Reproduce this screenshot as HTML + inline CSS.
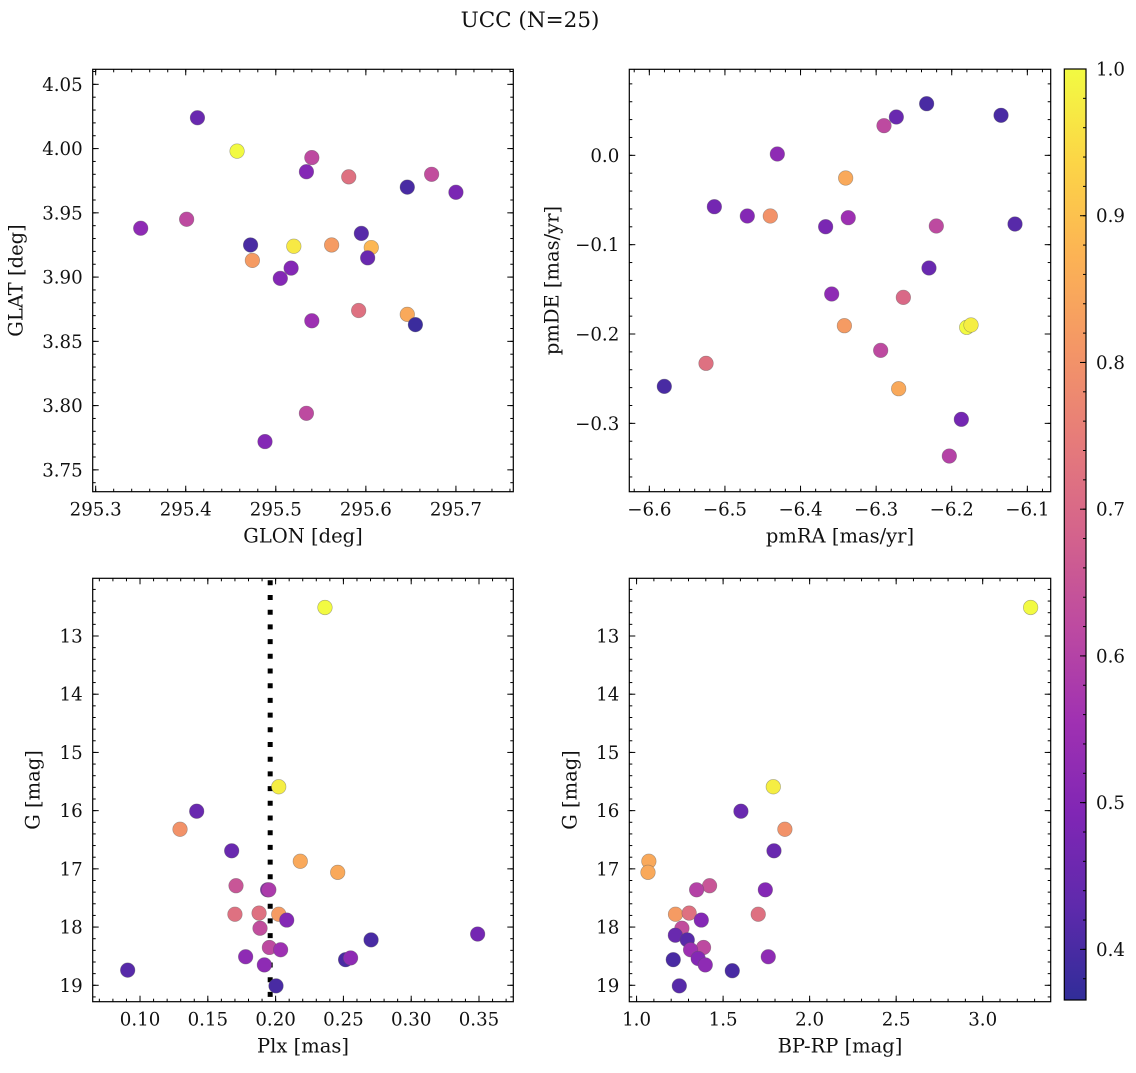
<!DOCTYPE html>
<html><head><meta charset="utf-8"><style>
html,body{margin:0;padding:0;background:#fff;}
svg text{font-family:"DejaVu Serif","Liberation Serif",serif;fill:#111;}
</style></head>
<body>
<svg id="fig" width="1136" height="1068" viewBox="0 0 1136 1068" xmlns="http://www.w3.org/2000/svg">
<text x="530" y="27" font-size="21.5" text-anchor="middle">UCC (N=25)</text>
</svg>
<script>
// ---- data ----
const glon = [295.413,295.457,295.540,295.534,295.581,295.646,295.673,295.700,295.350,295.401,295.472,295.474,295.520,295.562,295.595,295.606,295.602,295.517,295.505,295.592,295.646,295.655,295.540,295.534,295.488];
const glat = [4.024,3.998,3.993,3.982,3.978,3.970,3.980,3.966,3.938,3.945,3.925,3.913,3.924,3.925,3.934,3.923,3.915,3.907,3.899,3.874,3.871,3.863,3.866,3.794,3.772];
const cGal = [0.45,1.0,0.62,0.5,0.72,0.4,0.63,0.48,0.52,0.62,0.4,0.82,0.97,0.82,0.42,0.88,0.45,0.5,0.5,0.72,0.85,0.38,0.55,0.62,0.5];

const pmra = [-6.2332,-6.2733,-6.2896,-6.1348,-6.4307,-6.3403,-6.514,-6.4704,-6.440,-6.3668,-6.3369,-6.2204,-6.1163,-6.2301,-6.3588,-6.264,-6.342,-6.1802,-6.1745,-6.294,-6.525,-6.5802,-6.2702,-6.1873,-6.2032];
const pmde = [0.0578,0.0429,0.0332,0.0448,0.0015,-0.0254,-0.0575,-0.0679,-0.0679,-0.0799,-0.0698,-0.0791,-0.0769,-0.1261,-0.1552,-0.159,-0.1907,-0.1925,-0.1899,-0.2183,-0.2328,-0.2586,-0.2612,-0.2955,-0.3366];
const cPm = [0.4,0.45,0.62,0.4,0.52,0.85,0.47,0.5,0.8,0.48,0.55,0.62,0.42,0.45,0.52,0.7,0.82,1.0,0.98,0.62,0.72,0.4,0.85,0.47,0.6];

const plx = [0.2364,0.2023,0.1418,0.1295,0.1676,0.2182,0.2458,0.1708,0.1941,0.1950,0.1700,0.1878,0.2023,0.2082,0.1885,0.2704,0.3490,0.1954,0.2037,0.1779,0.2516,0.2553,0.1917,0.0909,0.2003];
const gPlx = [12.51,15.59,16.01,16.32,16.69,16.87,17.06,17.29,17.36,17.36,17.78,17.76,17.78,17.88,18.02,18.22,18.12,18.35,18.39,18.51,18.56,18.53,18.65,18.74,19.01];
const cPlx = [1.0,0.98,0.45,0.8,0.45,0.85,0.85,0.65,0.5,0.58,0.72,0.72,0.82,0.5,0.63,0.4,0.47,0.62,0.55,0.52,0.4,0.52,0.52,0.42,0.4];
const plxLine = 0.196;

const bprp = [3.277,1.790,1.603,1.857,1.794,1.071,1.066,1.422,1.347,1.744,1.225,1.304,1.703,1.374,1.262,1.224,1.293,1.387,1.312,1.356,1.397,1.761,1.212,1.553,1.247];
const gCol = [12.51,15.59,16.01,16.32,16.69,16.87,17.06,17.29,17.36,17.36,17.78,17.76,17.78,17.88,18.02,18.14,18.22,18.35,18.39,18.54,18.65,18.51,18.56,18.75,19.01];
const cCol = [1.0,0.98,0.45,0.8,0.45,0.85,0.85,0.65,0.6,0.5,0.82,0.72,0.72,0.5,0.63,0.45,0.42,0.62,0.55,0.5,0.52,0.52,0.4,0.4,0.42];

const cbTicks = [0.4,0.5,0.6,0.7,0.8,0.9,1.0];
const cMin = 0.3655, cMax = 1.0;

// ---- helpers ----
const NS = "http://www.w3.org/2000/svg";
const svg = document.getElementById('fig');
const TF = 18.2, LF = 19.5;
function mk(tag, attrs, parent){const e=document.createElementNS(NS,tag);for(const k in attrs)e.setAttribute(k,attrs[k]);(parent||svg).appendChild(e);return e;}
const stops=["#0d0887","#41049d","#6a00a8","#8f0da4","#b12a90","#cc4778","#e16462","#f2844b","#fca636","#fcce25","#f0f921"];
function hex(h){return [parseInt(h.substr(1,2),16),parseInt(h.substr(3,2),16),parseInt(h.substr(5,2),16)];}
function plasma(t,alpha){t=Math.max(0,Math.min(1,t));const p=t*10,i=Math.min(9,Math.floor(p)),f=p-i;const a=hex(stops[i]),b=hex(stops[i+1]);
 const c=a.map((v,k)=>v+(b[k]-v)*f).map(v=>Math.round(v*alpha+255*(1-alpha)));return `rgb(${c[0]},${c[1]},${c[2]})`;}
function colorOf(v){return plasma((v-cMin)/(cMax-cMin),0.85);}
function fmt(v,d){const s=Math.abs(v).toFixed(d);return (v<-1e-9?'\u2212':'')+s;}

function panel(o){
 const g=mk('g',{});
 
 
 const L=o.x0,R=o.x1,T=o.y0,B=o.y1;
 const sx=v=>L+(v-o.xmin)/(o.xmax-o.xmin)*(R-L);
 const sy=o.yinv?(v=>T+(v-o.ymin)/(o.ymax-o.ymin)*(B-T)):(v=>B-(v-o.ymin)/(o.ymax-o.ymin)*(B-T));
 const tg=mk('g',{stroke:'#000','stroke-width':1},g);
 function ticksX(step,len,labels,dec){const s0=Math.ceil(o.xmin/step-1e-6);for(let k=s0;k*step<=o.xmax+1e-9;k++){const v=k*step,x=sx(v);
   mk('line',{x1:x,x2:x,y1:B,y2:B-len},tg);mk('line',{x1:x,x2:x,y1:T,y2:T+len},tg);
   if(labels){const t=mk('text',{x:x,y:B+24,'font-size':TF,'text-anchor':'middle',stroke:'none'},g);t.textContent=fmt(v,dec);
     }}}
 function ticksY(step,len,labels,dec){const s0=Math.ceil(o.ymin/step-1e-6);for(let k=s0;k*step<=o.ymax+1e-9;k++){const v=k*step,y=sy(v);
   mk('line',{x1:L,x2:L+len,y1:y,y2:y},tg);mk('line',{x1:R,x2:R-len,y1:y,y2:y},tg);
   if(labels){const t=mk('text',{x:L-10,y:y+6.5,'font-size':TF,'text-anchor':'end',stroke:'none'},g);t.textContent=fmt(v,dec);
     }}}
 ticksX(o.xminor,3,false);ticksX(o.xmajor,6,true,o.xdec);
 ticksY(o.yminor,3,false);ticksY(o.ymajor,6,true,o.ydec);
 if(o.vline!==undefined){const l=mk('line',{x1:sx(o.vline),x2:sx(o.vline),y1:T+2,y2:B,stroke:'#000','stroke-width':5,'stroke-dasharray':'5 9.7'},g);
   }
 for(let i=0;i<o.xs.length;i++){const c=mk('circle',{cx:sx(o.xs[i]),cy:sy(o.ys[i]),r:7.3,fill:colorOf(o.cs[i]),stroke:'rgba(90,90,90,0.5)','stroke-width':0.6},g);
   }
 const fr=mk('rect',{x:L,y:T,width:R-L,height:B-T,fill:'none',stroke:'#000','stroke-width':1.2},g);
 
 const xl=mk('text',{x:(L+R)/2,y:B+51,'font-size':LF,'text-anchor':'middle'},g);xl.textContent=o.xlabel;
 
 const yx=L-o.ylabOff,yy=(T+B)/2;
 const yl=mk('text',{x:yx,y:yy,'font-size':LF,'text-anchor':'middle',transform:`rotate(-90 ${yx} ${yy})`},g);yl.textContent=o.ylabel;
 
}

panel({name:'glon-glat-panel',x0:92.7,x1:513.3,y0:69.3,y1:491.7,xmin:295.2967,xmax:295.7637,ymin:3.733,ymax:4.0617,
 xmajor:0.1,xminor:0.02,ymajor:0.05,yminor:0.01,xdec:1,ydec:2,xs:glon,ys:glat,cs:cGal,xlabel:'GLON [deg]',ylabel:'GLAT [deg]',ylabOff:70});
panel({name:'proper-motion-panel',x0:629.3,x1:1050.7,y0:69.3,y1:491.7,xmin:-6.6265,xmax:-6.0691,ymin:-0.3765,ymax:0.0963,
 xmajor:0.1,xminor:0.02,ymajor:0.1,yminor:0.02,xdec:1,ydec:1,xs:pmra,ys:pmde,cs:cPm,xlabel:'pmRA [mas/yr]',ylabel:'pmDE [mas/yr]',ylabOff:71});
panel({name:'plx-g-panel',x0:92.7,x1:513.3,y0:578.3,y1:1001.7,xmin:0.0651,xmax:0.3753,ymin:12.009,ymax:19.282,yinv:true,
 xmajor:0.05,xminor:0.01,ymajor:1,yminor:0.2,xdec:2,ydec:0,xs:plx,ys:gPlx,cs:cPlx,vline:plxLine,xlabel:'Plx [mas]',ylabel:'G [mag]',ylabOff:53});
panel({name:'cmd-panel',x0:629.3,x1:1050.7,y0:578.3,y1:1001.7,xmin:0.958,xmax:3.393,ymin:12.009,ymax:19.282,yinv:true,
 xmajor:0.5,xminor:0.1,ymajor:1,yminor:0.2,xdec:1,ydec:0,xs:bprp,ys:gCol,cs:cCol,xlabel:'BP-RP [mag]',ylabel:'G [mag]',ylabOff:53});

(function(){
 const L=1064.3,R=1086,T=69,B=1000;
 const g=mk('g',{});
 
 
 const defs=mk('defs',{},g);
 const lg=mk('linearGradient',{id:'cbg',x1:0,y1:1,x2:0,y2:0},defs);
 for(let k=0;k<=20;k++){mk('stop',{offset:k/20,'stop-color':plasma(k/20,0.85)},lg);}
 mk('rect',{x:L,y:T,width:R-L,height:B-T,fill:'url(#cbg)',stroke:'#000','stroke-width':1.2},g);
 const sy=v=>B-(v-cMin)/(cMax-cMin)*(B-T);
 for(let v=0.38;v<=1.0001;v+=0.02){const y=sy(v);mk('line',{x1:R,x2:R-3,y1:y,y2:y,stroke:'#000','stroke-width':1},g);}
 cbTicks.forEach(v=>{const y=sy(v);mk('line',{x1:R,x2:R-6,y1:y,y2:y,stroke:'#000','stroke-width':1},g);
  const t=mk('text',{x:R+10,y:y+6.5,'font-size':TF},g);t.textContent=v.toFixed(1);
  });
})();
</script>
</body></html>
